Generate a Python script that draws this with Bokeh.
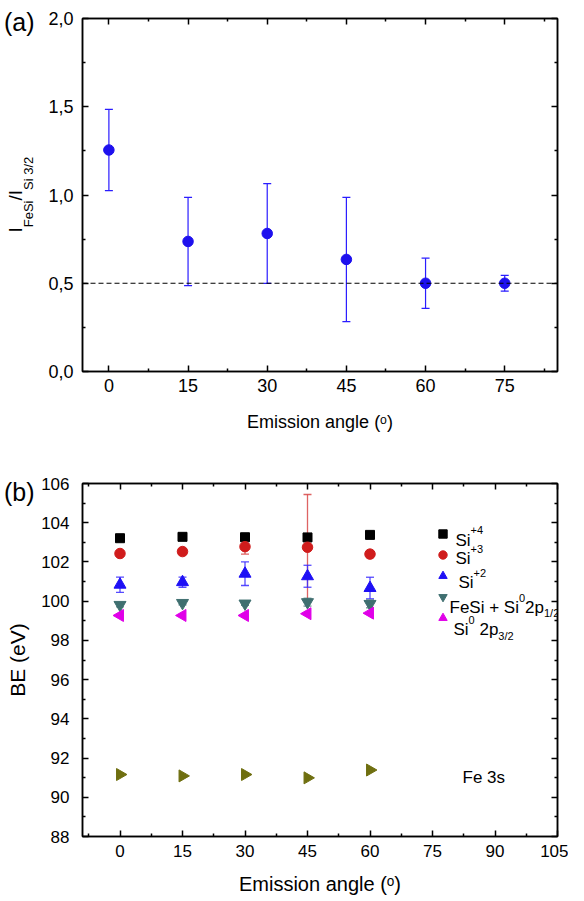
import math
from bokeh.plotting import figure
from bokeh.models import (ColumnDataSource, Whisker, TeeHead, Span, Label, LinearAxis,
                          FixedTicker, Range1d, Legend, LegendItem)
from bokeh.layouts import column
from bokeh.embed import file_html
from bokeh.resources import INLINE

FONT = "Liberation Sans"

# ---------------- data: panel (a) ----------------
angles_a = [0, 15, 30, 45, 60, 75]
ratio_a = [1.255, 0.737, 0.782, 0.635, 0.50, 0.50]
ratio_err_a = [0.23, 0.25, 0.283, 0.352, 0.142, 0.045]
ref_level_a = 0.5
xticks_a = [0, 15, 30, 45, 60, 75]
xminor_a = [7.5, 22.5, 37.5, 52.5, 67.5, 82.5]
yticks_a = [0.0, 0.5, 1.0, 1.5, 2.0]
ytick_labels_a = ["0,0", "0,5", "1,0", "1,5", "2,0"]
yminor_a = [0.25, 0.75, 1.25, 1.75]

# ---------------- data: panel (b) ----------------
angles_b = [0, 15, 30, 45, 60]
si4 = [103.21, 103.28, 103.26, 103.25, 103.38]
si4_err = [0.05, 0.05, 0.05, 0.05, 0.05]
si3 = [102.43, 102.53, 102.78, 102.75, 102.40]
si3_err = [0.15, 0.15, 0.38, 2.69, 0.18]
si2 = [100.84, 100.97, 101.40, 101.27, 100.67]
si2_err = [0.39, 0.26, 0.60, 0.56, 0.55]
fesi = [99.81, 99.91, 99.88, 99.95, 99.86]
fesi_err = [0.10, 0.10, 0.10, 0.20, 0.20]
si0 = [99.27, 99.27, 99.27, 99.36, 99.39]
si0_err = [0.08, 0.08, 0.08, 0.08, 0.08]
fe3s = [91.16, 91.09, 91.16, 90.99, 91.39]
fe3s_err = [0.08, 0.08, 0.08, 0.10, 0.10]
xticks_b = [0, 15, 30, 45, 60, 75, 90, 105]
xminor_b = [-7.5, 7.5, 22.5, 37.5, 52.5, 67.5, 82.5, 97.5]
yticks_b = [88, 90, 92, 94, 96, 98, 100, 102, 104, 106]
yminor_b = [89, 91, 93, 95, 97, 99, 101, 103, 105]

# ---------------- layout constants ----------------
F1 = dict(left=78, top=18, w=479, h=353, x0=-5, x1=85, y0=0, y1=2)
F2 = dict(left=82, top=28, w=478, h=353, x0=-9, x1=105, y0=88, y1=106)

WID = {' ': .278, '+': .584, '/': .278, '(': .333, ')': .333, ',': .278,
       'F': .611, 'e': .556, 'S': .667, 'i': .222, 'p': .556, 's': .5,
       'I': .278, 'B': .667, 'E': .667, 'V': .667}


def tw(s, size):
    return sum(WID.get(c, .556) for c in s) * size


def ydata(F, cy):
    return F['y1'] - (cy - F['top']) / F['h'] * (F['y1'] - F['y0'])


def rich(p, pieces, cx, cy):
    """Place rich text pieces (text, size, rise) starting at canvas (cx, cy) baseline."""
    pos = 0.0
    for text, size, rise in pieces:
        lead = len(text) - len(text.lstrip(" "))
        pos += tw(" " * lead, size)
        text = text.lstrip(" ")
        p.add_layout(Label(x=cx + pos, y=cy - rise, x_units="canvas", y_units="canvas",
                           text=text, text_font=FONT,
                           text_font_size=f"{size}px", text_align="left",
                           text_baseline="alphabetic", text_color="black"))
        pos += tw(text, size)


def text_axis(p, ticks, texts, size, standoff, orientation):
    """An axis without line or ticks that only carries text, stacked on the left."""
    ax = LinearAxis(ticker=FixedTicker(ticks=ticks, minor_ticks=[]),
                    major_label_overrides=dict(zip(ticks, texts)),
                    major_label_orientation=orientation,
                    major_label_standoff=standoff,
                    major_label_text_font=FONT,
                    major_label_text_font_size=f"{size}px",
                    major_label_text_color="black",
                    axis_line_color=None, major_tick_line_color=None,
                    minor_tick_line_color=None, major_tick_in=0, major_tick_out=0,
                    minor_tick_in=0, minor_tick_out=0)
    p.add_layout(ax, "left")


def style_axis(ax, font_size, standoff, labels=True):
    ax.axis_line_width = 1.5
    ax.axis_line_color = "black"
    ax.major_tick_in = 6
    ax.major_tick_out = 0
    ax.minor_tick_in = 3
    ax.minor_tick_out = 0
    ax.major_tick_line_width = 1.5
    ax.minor_tick_line_width = 1.5
    ax.major_tick_line_color = "black"
    ax.minor_tick_line_color = "black"
    ax.major_label_text_font = FONT
    if labels:
        ax.major_label_text_color = "black"
        ax.major_label_text_font_size = font_size
        ax.major_label_standoff = standoff
    else:
        ax.major_label_text_color = None
        ax.major_label_text_font_size = "1px"
        ax.major_label_standoff = 0
    ax.axis_label_text_font = FONT
    ax.axis_label_text_font_style = "normal"
    ax.axis_label_text_color = "black"


def make_fig(F, width, height, bottom):
    p = figure(width=width, height=height,
               x_range=Range1d(F['x0'], F['x1']), y_range=Range1d(F['y0'], F['y1']),
               output_backend="svg", toolbar_location=None,
               min_border_left=F['left'], min_border_top=F['top'],
               min_border_right=width - F['left'] - F['w'], min_border_bottom=bottom)
    p.xgrid.visible = False
    p.ygrid.visible = False
    p.outline_line_color = "black"
    p.outline_line_width = 1.5
    p.background_fill_color = "white"
    p.border_fill_color = "white"
    return p


def add_frame_axes(p, xt, yt):
    top = LinearAxis(ticker=xt)
    style_axis(top, "1px", 0, labels=False)
    p.add_layout(top, "above")
    right = LinearAxis(ticker=yt)
    style_axis(right, "1px", 0, labels=False)
    p.add_layout(right, "right")


def whisker(p, xs, ys, errs, color, alpha=1.0, head=8, lw=1.2):
    src = ColumnDataSource(dict(x=xs, lo=[y - e for y, e in zip(ys, errs)],
                                hi=[y + e for y, e in zip(ys, errs)]))
    w = Whisker(base="x", upper="hi", lower="lo", source=src,
                line_color=color, line_alpha=alpha, line_width=lw,
                upper_head=TeeHead(size=head, line_color=color, line_alpha=alpha, line_width=lw),
                lower_head=TeeHead(size=head, line_color=color, line_alpha=alpha, line_width=lw))
    p.add_layout(w)


# ================= panel (a) =================
p1 = make_fig(F1, 568, 455, 84)
xt_a = FixedTicker(ticks=xticks_a, minor_ticks=xminor_a)
yt_a = FixedTicker(ticks=yticks_a, minor_ticks=yminor_a)
p1.xaxis[0].ticker = xt_a
p1.yaxis[0].ticker = yt_a
style_axis(p1.xaxis[0], "18px", 7)
style_axis(p1.yaxis[0], "18px", 9)
p1.yaxis[0].major_label_overrides = {v: s for v, s in zip(yticks_a, ytick_labels_a)}
p1.xaxis[0].axis_label = "Emission angle (\u1d52)"
p1.xaxis[0].axis_label_text_font_size = "18px"
p1.xaxis[0].axis_label_standoff = 17
add_frame_axes(p1, xt_a, yt_a)

p1.add_layout(Span(location=ref_level_a, dimension="width", line_color="black",
                   line_dash="5 3", line_width=1.2))
blue_a = "#1e10ee"
whisker(p1, angles_a, ratio_a, ratio_err_a, "#2a1cff", head=8, lw=1.2)
p1.scatter(angles_a, ratio_a, marker="circle", size=10.5, color=blue_a)

# y label of panel (a): I_FeSi / I_Si 3/2, built from big and small text pieces
BIG, SMALL = 19, 13
pieces = [("I", BIG), ("FeSi", SMALL), ("/I", BIG), ("Si 3/2", SMALL)]
start = 232.0
centres = []
for t, s in pieces:
    w = tw(t, s)
    centres.append(start - w / 2)
    start -= w
big_ticks = [ydata(F1, centres[0]), ydata(F1, centres[2])]
small_ticks = [ydata(F1, centres[1]), ydata(F1, centres[3])]
text_axis(p1, small_ticks, ["FeSi", "Si 3/2"], SMALL, 9, "parallel")
text_axis(p1, big_ticks, ["I", "/I"], BIG, -8, "parallel")
text_axis(p1, [ydata(F1, 21)], ["(a)"], 25, -32, "horizontal")

# ================= panel (b) =================
p2 = make_fig(F2, 568, 446, 65)
xt_b = FixedTicker(ticks=xticks_b, minor_ticks=xminor_b)
yt_b = FixedTicker(ticks=yticks_b, minor_ticks=yminor_b)
p2.xaxis[0].ticker = xt_b
p2.yaxis[0].ticker = yt_b
style_axis(p2.xaxis[0], "17px", 8)
style_axis(p2.yaxis[0], "17px", 13)
p2.xaxis[0].axis_label = "Emission angle (\u1d52)"
p2.xaxis[0].axis_label_text_font_size = "20px"
p2.xaxis[0].axis_label_standoff = 13
p2.yaxis[0].axis_label = "BE (eV)"
p2.yaxis[0].axis_label_text_font_size = "21px"
p2.yaxis[0].axis_label_standoff = 9
add_frame_axes(p2, xt_b, yt_b)
text_axis(p2, [ydata(F2, 36.5)], ["(b)"], 25, -31, "horizontal")

c_si4, c_si3, c_si2 = "black", "#d01c1c", "#1e10f5"
c_fesi, c_si0, c_fe = "#3f6f70", "#e000e8", "#6f6f10"

whisker(p2, angles_b, si3, si3_err, "#d84848", alpha=0.85, head=8, lw=1.3)
whisker(p2, angles_b, si2, si2_err, "#3a2cff", alpha=0.85, head=8, lw=1.3)
whisker(p2, angles_b, fesi, fesi_err, c_fesi, alpha=0.8, head=8, lw=1.2)
whisker(p2, angles_b, si0, si0_err, c_si0, alpha=0.6, head=6, lw=1.0)
whisker(p2, angles_b, fe3s, fe3s_err, c_fe, alpha=0.6, head=6, lw=1.0)
whisker(p2, angles_b, si4, si4_err, c_si4, alpha=0.6, head=6, lw=1.0)

r4 = p2.scatter(angles_b, si4, marker="square", size=9, color=c_si4)
r3 = p2.scatter(angles_b, si3, marker="circle", size=10.5, color=c_si3)
r2 = p2.scatter(angles_b, si2, marker="triangle", size=12, color=c_si2)
rf = p2.scatter(angles_b, fesi, marker="inverted_triangle", size=12, color=c_fesi)
r0 = p2.scatter(angles_b, si0, marker="triangle", size=12, angle=math.pi / 2, color=c_si0)
re = p2.scatter(angles_b, fe3s, marker="triangle", size=12, angle=-math.pi / 2, color=c_fe)

legend = Legend(items=[LegendItem(label="", renderers=[r]) for r in (r4, r3, r2, rf, r0)],
                location=(350, 208), glyph_width=21, glyph_height=21, label_height=21,
                label_width=10, spacing=0, padding=0, margin=0,
                border_line_color=None, background_fill_alpha=0)
p2.add_layout(legend)

# legend texts (canvas coords of panel b)
rich(p2, [("Si", 17, 0), ("+4", 11, 11)], 455, 85)
rich(p2, [("Si", 17, 0), ("+3", 11, 10)], 455, 103)
rich(p2, [("Si", 17, 0), ("+2", 11, 10)], 458, 127)
rich(p2, [("FeSi + Si", 17, 0), ("0", 11, 10), ("2p", 17, 0), ("1/2", 11, -5)], 449, 152)
rich(p2, [("Si", 17, 0), ("0", 11, 10), (" 2p", 17, 0), ("3/2", 11, -6)], 453, 174)
rich(p2, [("Fe 3s", 17, 0)], 462, 322)

layout = column(p1, p2)
open("out.html", "w").write(file_html(layout, INLINE))
